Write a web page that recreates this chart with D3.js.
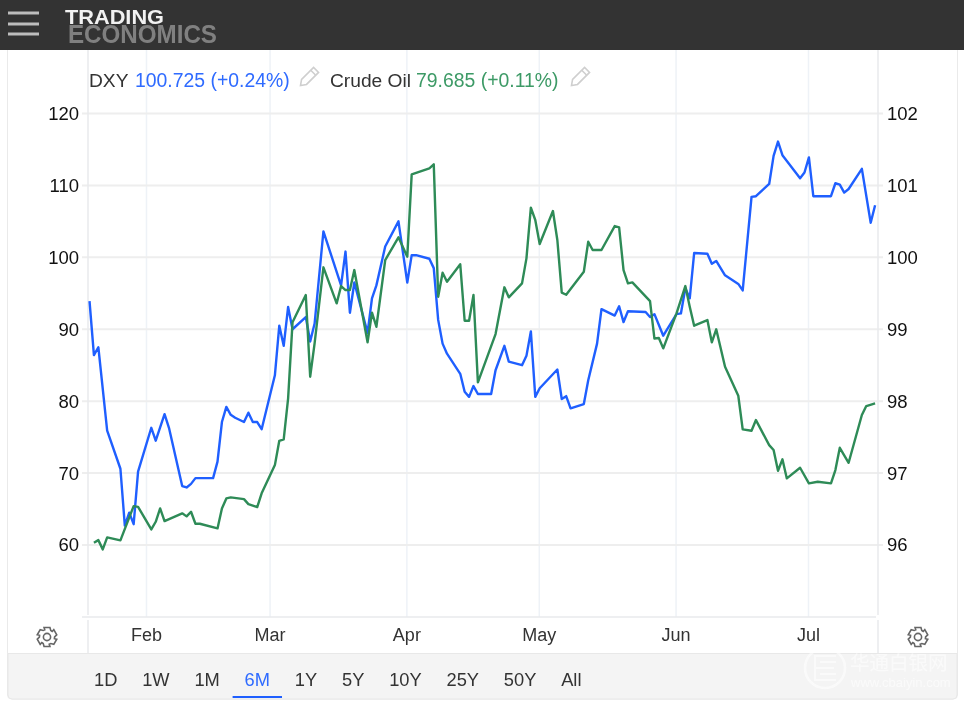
<!DOCTYPE html>
<html>
<head>
<meta charset="utf-8">
<script src="https://cdn.jsdelivr.net/npm/d3@7"></script>
<style>
  html, body { margin: 0; padding: 0; background: #fff; }
  svg { display: block; font-family: "Liberation Sans", Arial, sans-serif; filter: blur(0.5px); }
</style>
</head>
<body>
<svg id="chart" width="964" height="706"></svg>
<script>
// Values (dates as month-day)
const dxyDates = [
  "01-19","01-20","01-21","01-23","01-26","01-27","01-28","01-29","01-30","02-02",
  "02-03","02-05","02-06","02-09","02-10","02-11","02-12","02-16","02-17","02-18",
  "02-19","02-20","02-21","02-23","02-24","02-25","02-26","02-27","03-02","03-03",
  "03-04","03-05","03-06","03-09","03-10","03-11","03-13","03-17","03-18","03-19",
  "03-20","03-23","03-24","03-25","03-27","03-30","04-01","04-02","04-03","04-06",
  "04-07","04-08","04-09","04-10","04-13","04-14","04-15","04-16","04-17","04-20",
  "04-21","04-23","04-24","04-27","04-28","04-29","04-30","05-01","05-05","05-06",
  "05-07","05-08","05-11","05-12","05-14","05-15","05-18","05-19","05-20","05-21",
  "05-25","05-26","05-27","05-29","06-01","06-02","06-03","06-04","06-05","06-08",
  "06-09","06-10","06-12","06-15","06-16","06-18","06-19","06-22","06-23","06-24",
  "06-25","06-29","06-30","07-01","07-02","07-06","07-07","07-08","07-09","07-10",
  "07-13","07-15","07-16"
];
const dxyValues = [
  99.39,98.64,98.75,97.59,97.06,96.27,96.45,96.29,97.02,97.63,
  97.45,97.82,97.63,96.82,96.80,96.85,96.93,96.93,97.16,97.71,
  97.92,97.81,97.77,97.71,97.84,97.71,97.71,97.61,98.36,99.05,
  98.77,99.31,99.00,99.17,98.83,99.08,100.36,99.61,100.08,99.23,
  99.65,98.95,99.43,99.61,100.15,100.50,99.65,100.03,100.03,99.98,
  99.85,99.13,98.80,98.66,98.38,98.13,98.06,98.21,98.10,98.10,
  98.43,98.77,98.55,98.50,98.63,98.97,98.06,98.18,98.44,98.03,
  98.07,97.90,97.96,98.29,98.80,99.28,99.19,99.32,99.10,99.25,
  99.24,99.17,99.21,98.91,99.21,99.22,99.57,99.43,100.06,100.05,
  99.91,99.95,99.75,99.63,99.54,100.84,100.85,101.02,101.41,101.61,
  101.42,101.10,101.18,101.39,100.85,100.85,101.03,101.01,100.90,100.95,
  101.23,100.48,100.725
];

const oilDates = [
  "01-20","01-21","01-22","01-23","01-26","01-29","01-30","02-02","02-03","02-04",
  "02-05","02-09","02-10","02-11","02-12","02-13","02-17","02-18","02-19","02-20",
  "02-23","02-24","02-26","02-27","03-02","03-03","03-04","03-05","03-06","03-09",
  "03-10","03-11","03-13","03-16","03-17","03-18","03-19","03-20","03-23","03-24",
  "03-25","03-27","03-30","04-01","04-02","04-06","04-07","04-08","04-09","04-10",
  "04-13","04-14","04-15","04-16","04-17","04-21","04-23","04-24","04-27","04-28",
  "04-29","04-30","05-01","05-04","05-05","05-06","05-07","05-11","05-12","05-13",
  "05-15","05-18","05-19","05-20","05-21","05-22","05-26","05-27","05-28","05-29",
  "06-01","06-03","06-04","06-05","06-08","06-09","06-10","06-12","06-15","06-16",
  "06-18","06-19","06-22","06-23","06-24","06-25","06-26","06-29","07-01","07-03",
  "07-06","07-07","07-08","07-10","07-13","07-14","07-16"
];
const oilValues = [
  60.31,60.68,59.39,61.06,60.64,65.41,65.31,62.17,63.23,65.09,
  63.32,64.40,63.98,64.62,62.95,62.95,62.31,65.09,66.48,66.62,
  66.38,65.69,65.27,67.18,71.11,74.49,74.69,80.39,90.96,94.76,
  83.40,88.04,98.61,93.60,96.01,95.45,95.45,98.23,88.18,92.30,
  90.35,99.62,102.78,100.08,111.54,112.38,112.93,94.52,97.86,96.61,
  99.03,91.18,91.18,94.76,82.61,89.33,95.83,94.44,96.38,99.86,
  106.90,105.19,101.85,106.44,102.41,95.08,94.80,98.00,102.17,101.02,
  101.02,104.35,104.17,98.23,96.38,96.52,93.92,88.71,88.78,87.34,
  92.21,96.01,93.13,90.49,91.28,88.18,89.99,84.78,80.75,76.08,
  75.88,77.37,73.89,73.20,70.32,71.91,69.26,70.74,68.57,68.79,
  68.57,70.42,73.52,71.43,78.07,79.32,79.685
];

const leftTicks = [60, 70, 80, 90, 100, 110, 120];
const rightTicks = [96, 97, 98, 99, 100, 101, 102];
const monthTicks = ["02-01","03-01","04-01","05-01","06-01","07-01"];
const rangeLabels = ["1D","1W","1M","6M","1Y","5Y","10Y","25Y","50Y","All"];
const activeRange = "6M";

const BLUE = "#1f5fff";
const GREEN = "#2e8b57";

const svg = d3.select("#chart");
const parseDay = d3.timeParse("%m-%d");
// quotes are stamped late in their day, not at midnight
const quoteTime = s => d3.timeHour.offset(parseDay(s), 5);

// Card and bottom band go first so the plot sits on top
svg.append("rect")
  .attr("x", 7.5).attr("y", 40)
  .attr("width", 950).attr("height", 659)
  .attr("rx", 4)
  .attr("fill", "#fff")
  .attr("stroke", "#eaeaea");

svg.append("path")
  .attr("d", "M8,653.5 H957 V695 Q957,699 953,699 H12 Q8,699 8,695 Z")
  .attr("fill", "#f4f4f4")
  .attr("stroke", "#e8e8e8");

// Scales
const x = d3.scaleTime()
  .domain([parseDay("01-19"), parseDay("07-17")])
  .range([88.6, 878.6]);
const yLeft = d3.scaleLinear().domain([60, 120]).range([545, 113.5]);
const yRight = d3.scaleLinear().domain([96, 102]).range([545, 113.5]);

// Vertical month grid
svg.append("g")
  .attr("transform", "translate(0,617)")
  .call(d3.axisBottom(x)
    .tickValues(monthTicks.map(parseDay))
    .tickSize(-567)
    .tickPadding(11)
    .tickFormat(d3.timeFormat("%b")))
  .call(g => g.select(".domain").remove())
  .call(g => g.selectAll("line").attr("stroke", "#eef2f7").attr("stroke-width", 1.5))
  .call(g => g.selectAll("text")
    .attr("fill", "#333")
    .attr("font-size", 18)
    .attr("font-family", "'Liberation Sans', Arial, sans-serif"));

// Left axis carries the horizontal grid
svg.append("g")
  .attr("transform", "translate(82,0)")
  .call(d3.axisLeft(yLeft).tickValues(leftTicks).tickSize(0).tickPadding(3))
  .call(g => g.select(".domain").remove())
  .call(g => g.selectAll("text")
    .attr("fill", "#111")
    .attr("font-size", 18.5)
    .attr("font-family", "'Liberation Sans', Arial, sans-serif"));

svg.append("g")
  .selectAll("line")
  .data(leftTicks)
  .join("line")
  .attr("x1", 82)
  .attr("x2", 883)
  .attr("y1", d => yLeft(d))
  .attr("y2", d => yLeft(d))
  .attr("stroke", "#eeeeee")
  .attr("stroke-width", 2);

svg.append("g")
  .attr("transform", "translate(884,0)")
  .call(d3.axisRight(yRight).tickValues(rightTicks).tickFormat(d3.format("d")).tickSize(0).tickPadding(3))
  .call(g => g.select(".domain").remove())
  .call(g => g.selectAll("text")
    .attr("fill", "#111")
    .attr("font-size", 18.5)
    .attr("font-family", "'Liberation Sans', Arial, sans-serif"));

// Plot frame lines
[[88, 50, 88, 615], [88, 620, 88, 653], [878, 50, 878, 615], [878, 620, 878, 653], [82, 617, 876, 617]]
  .forEach(([x1, y1, x2, y2]) => {
    svg.append("line")
      .attr("x1", x1).attr("y1", y1)
      .attr("x2", x2).attr("y2", y2)
      .attr("stroke", "#e8eaed")
      .attr("stroke-width", 1.5);
  });

// Series: blue on the right axis, green on the left, green above
const dxyLine = d3.line()
  .x((d, i) => x(quoteTime(dxyDates[i])))
  .y(d => yRight(d));
const oilLine = d3.line()
  .x((d, i) => x(quoteTime(oilDates[i])))
  .y(d => yLeft(d));

svg.append("path")
  .datum(dxyValues)
  .attr("fill", "none")
  .attr("stroke", BLUE)
  .attr("stroke-width", 2.4)
  .attr("stroke-linejoin", "round")
  .attr("d", dxyLine);

svg.append("path")
  .datum(oilValues)
  .attr("fill", "none")
  .attr("stroke", GREEN)
  .attr("stroke-width", 2.4)
  .attr("stroke-linejoin", "round")
  .attr("d", oilLine);

// Header bar
svg.append("rect")
  .attr("width", 964).attr("height", 50)
  .attr("fill", "#333333");

[13, 24, 34].forEach(y => {
  svg.append("line")
    .attr("x1", 8).attr("x2", 39)
    .attr("y1", y).attr("y2", y)
    .attr("stroke", "#bdbdbd")
    .attr("stroke-width", 3);
});

svg.append("text")
  .attr("x", 65).attr("y", 23.5)
  .attr("font-size", 21)
  .attr("font-weight", "bold")
  .attr("fill", "#f2f2f2")
  .attr("textLength", 99)
  .attr("lengthAdjust", "spacingAndGlyphs")
  .text("TRADING");

svg.append("text")
  .attr("x", 68).attr("y", 43)
  .attr("font-size", 25)
  .attr("font-weight", "bold")
  .attr("fill", "#808080")
  .attr("textLength", 149)
  .attr("lengthAdjust", "spacingAndGlyphs")
  .text("ECONOMICS");

// Legend
const legend = [
  { x: 89, name: "DXY", valueX: 135, value: "100.725 (+0.24%)", color: "#2f6bff", pencil: 309 },
  { x: 330, name: "Crude Oil", valueX: 416, value: "79.685 (+0.11%)", color: "#3d9a66", pencil: 580 }
];

legend.forEach(d => {
  svg.append("text")
    .attr("x", d.x).attr("y", 87)
    .attr("font-size", 19.2)
    .attr("fill", "#333")
    .text(d.name);
  svg.append("text")
    .attr("x", d.valueX).attr("y", 87)
    .attr("font-size", 19.4)
    .attr("fill", d.color)
    .text(d.value);
  drawPencil(d.pencil, 77);
});

function drawPencil(cx, cy) {
  const g = svg.append("g")
    .attr("transform", `translate(${cx},${cy}) rotate(-45)`)
    .attr("fill", "none")
    .attr("stroke", "#cfcfcf")
    .attr("stroke-width", 1.6);
  g.append("path").attr("d", "M-12,0 L-7,-3.5 H10 V3.5 H-7 Z");
  g.append("line").attr("x1", 6).attr("x2", 6).attr("y1", -3.5).attr("y2", 3.5);
}

// Settings gears
function drawGear(cx, cy) {
  const g = svg.append("g")
    .attr("transform", `translate(${cx},${cy})`)
    .attr("fill", "none")
    .attr("stroke", "#666")
    .attr("stroke-width", 1.6);
  const pts = [];
  d3.range(6).forEach(i => {
    const a = i * Math.PI / 3;
    pts.push([a - 0.3, 10], [a + 0.3, 10], [a + 0.52, 7.6]);
    pts.push([a + 0.75, 7.6]);
  });
  g.append("path")
    .attr("d", d3.lineRadial().curve(d3.curveLinearClosed)(pts));
  g.append("circle").attr("r", 3.6);
}
drawGear(47, 637);
drawGear(918, 637);

// Range buttons, laid out by measured width
let cursor = 94;
rangeLabels.forEach(label => {
  const active = label === activeRange;
  const t = svg.append("text")
    .attr("x", cursor).attr("y", 686)
    .attr("font-size", 18.3)
    .attr("fill", active ? "#2f6bff" : "#333")
    .text(label);
  const w = t.node().getComputedTextLength();
  if (active) {
    svg.append("line")
      .attr("x1", cursor - 12).attr("x2", cursor + w + 12)
      .attr("y1", 697).attr("y2", 697)
      .attr("stroke", BLUE)
      .attr("stroke-width", 2);
  }
  cursor += w + 24.8;
});

// Faint watermark over the bottom right corner
const mark = svg.append("g").attr("opacity", 0.6);
mark.append("circle")
  .attr("cx", 825).attr("cy", 668).attr("r", 20)
  .attr("fill", "none").attr("stroke", "#fff").attr("stroke-width", 2.5);
mark.append("path")
  .attr("d", "M836,656 H815 V680 H836 M815,668 H834 M820,662 H836 M820,674 H836")
  .attr("fill", "none").attr("stroke", "#fff").attr("stroke-width", 1.8);
mark.append("text")
  .attr("x", 850).attr("y", 670)
  .attr("font-size", 19.5)
  .attr("font-family", "'Noto Sans CJK SC'")
  .attr("fill", "#fff")
  .text("华通白银网");
mark.append("text")
  .attr("x", 851).attr("y", 687)
  .attr("font-size", 13)
  .attr("fill", "#fff")
  .text("www.cbaiyin.com");
</script>
</body>
</html>
